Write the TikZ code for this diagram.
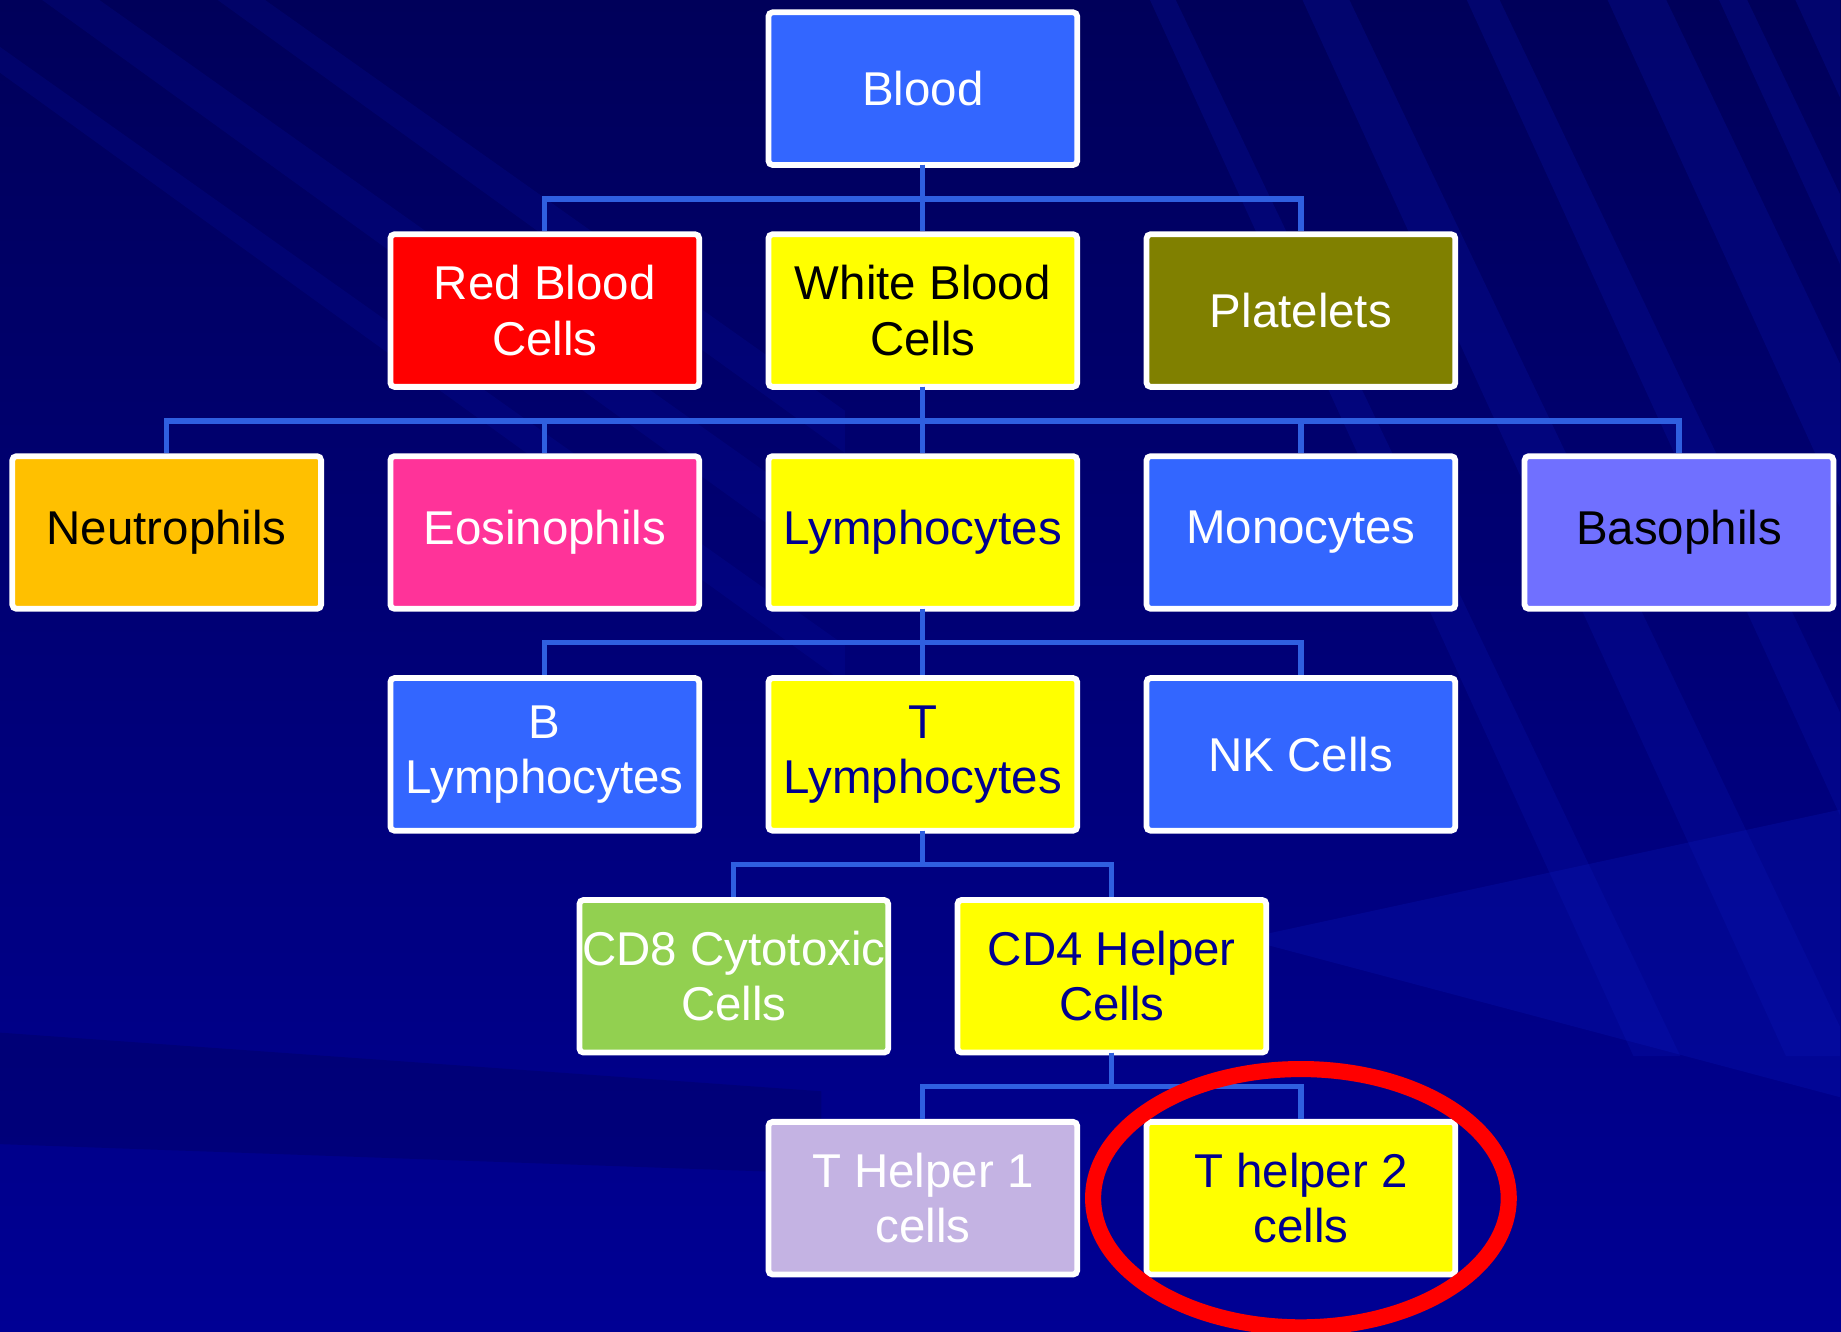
\documentclass[tikz,border=0pt]{standalone}
\usepackage{fontspec}
\setmainfont{Liberation Sans}
\usepackage{xcolor}
\usetikzlibrary{positioning,backgrounds}

\definecolor{bgtop}{HTML}{00005A}
\definecolor{bgbottom}{HTML}{000094}
\definecolor{bgstreak}{HTML}{0A1ABE}
\definecolor{cellblue}{HTML}{3366FF}
\definecolor{cellred}{HTML}{FF0000}
\definecolor{cellyellow}{HTML}{FFFF00}
\definecolor{cellolive}{HTML}{808000}
\definecolor{cellorange}{HTML}{FFC000}
\definecolor{cellpink}{HTML}{FF3399}
\definecolor{cellviolet}{HTML}{7070FF}
\definecolor{cellgreen}{HTML}{92D050}
\definecolor{celllilac}{HTML}{C4B3E3}
\definecolor{navytext}{HTML}{000090}
\definecolor{wireblue}{HTML}{2F5FE0}
\definecolor{ringred}{HTML}{FF0000}

\begin{document}
\begin{tikzpicture}[
    node distance=0.59cm and 0.59cm,
    every node/.style={font=\fontsize{11.5}{13.4}\selectfont},
    cell/.style={
      rectangle, rounded corners=1pt, draw=white, line width=1.4pt,
      minimum width=2.63cm, minimum height=1.30cm,
      align=center, inner sep=0pt, outer sep=0pt
    },
    bluecell/.style={cell, fill=cellblue, text=white},
    yellowcell/.style={cell, fill=cellyellow, text=navytext},
    wire/.style={draw=wireblue, line width=1.25pt, shorten >=0.7pt},
    ring/.style={draw=ringred, line width=3.9pt},
    streak/.style={fill=bgstreak, opacity=0.2}
  ]
    \useasboundingbox (0,0) rectangle (15.68,-11.34);

    % ── Level 0 ──
    \node[bluecell] (blood) at (7.86,-0.755) {Blood};

    % ── Level 1 ──
    \node[cell, fill=cellyellow, text=black, below=of blood] (wbc) {White Blood\\Cells};
    \node[cell, fill=cellred, text=white, left=of wbc] (rbc) {Red Blood\\Cells};
    \node[cell, fill=cellolive, text=white, right=of wbc] (platelets) {Platelets};

    % ── Level 2 ──
    \node[yellowcell, below=of wbc] (lympho) {Lymphocytes};
    \node[cell, fill=cellpink, text=white, left=of lympho] (eosino) {Eosinophils};
    \node[cell, fill=cellorange, text=black, left=of eosino] (neutro) {Neutrophils};
    \node[bluecell, right=of lympho] (mono) {Monocytes};
    \node[cell, fill=cellviolet, text=black, right=of mono] (baso) {Basophils};

    % ── Level 3 ──
    \node[yellowcell, below=of lympho] (tlym) {T\\Lymphocytes};
    \node[bluecell, left=of tlym] (blym) {B\\Lymphocytes};
    \node[bluecell, right=of tlym] (nk) {NK Cells};

    % ── Level 4 ──
    \node[cell, fill=cellgreen, text=white, below=of tlym, xshift=-1.61cm] (cdeight) {CD8 Cytotoxic\\Cells};
    \node[yellowcell, right=of cdeight] (cdfour) {CD4 Helper\\Cells};

    % ── Level 5 ──
    \node[cell, fill=celllilac, text=white, below=of cdfour, xshift=-1.61cm] (thone) {T Helper 1\\cells};
    \node[yellowcell, right=of thone] (thtwo) {T helper 2\\cells};

    % ── Background ──
    \begin{scope}[on background layer]
      \fill[top color=bgtop, bottom color=bgbottom] (0,0) rectangle (15.68,-11.34);
      \begin{scope}[x=0.01cm, y=-0.01cm]
        \clip (0,0) rectangle (1568,1134);
        \foreach \sx/\sw in {980/22, 1110/40, 1250/28, 1370/50, 1465/24, 1530/38}
          \fill[streak] (\sx,0) -- ++(\sw,0) -- ++(430,900) -- ++(-\sw-18,0) -- cycle;
        \foreach \sy/\sw in {-160/26, -60/34, 40/22}
          \fill[streak, opacity=0.15] (0,\sy) -- ++(0,\sw) -- ++(720,520) -- ++(0,-\sw-10) -- cycle;
        \fill[streak, opacity=0.25] (1060,800) -- (1568,690) -- (1568,935) -- cycle;
        \fill[bgtop, opacity=0.35] (0,880) -- (700,930) -- (700,1000) -- (0,975) -- cycle;
      \end{scope}
    \end{scope}

    % ── Connectors ──
    \foreach \kid in {rbc, wbc, platelets}
      \draw[wire] (blood.south) -- ++(0,-0.29) -| (\kid.north);
    \foreach \kid in {neutro, eosino, lympho, mono, baso}
      \draw[wire] (wbc.south) -- ++(0,-0.29) -| (\kid.north);
    \foreach \kid in {blym, tlym, nk}
      \draw[wire] (lympho.south) -- ++(0,-0.29) -| (\kid.north);
    \foreach \kid in {cdeight, cdfour}
      \draw[wire] (tlym.south) -- ++(0,-0.29) -| (\kid.north);
    \foreach \kid in {thone, thtwo}
      \draw[wire] (cdfour.south) -- ++(0,-0.29) -| (\kid.north);

    % ── Highlight ──
    \draw[ring] (thtwo.center) ellipse [x radius=1.77cm, y radius=1.10cm];

  \end{tikzpicture}
\end{document}
